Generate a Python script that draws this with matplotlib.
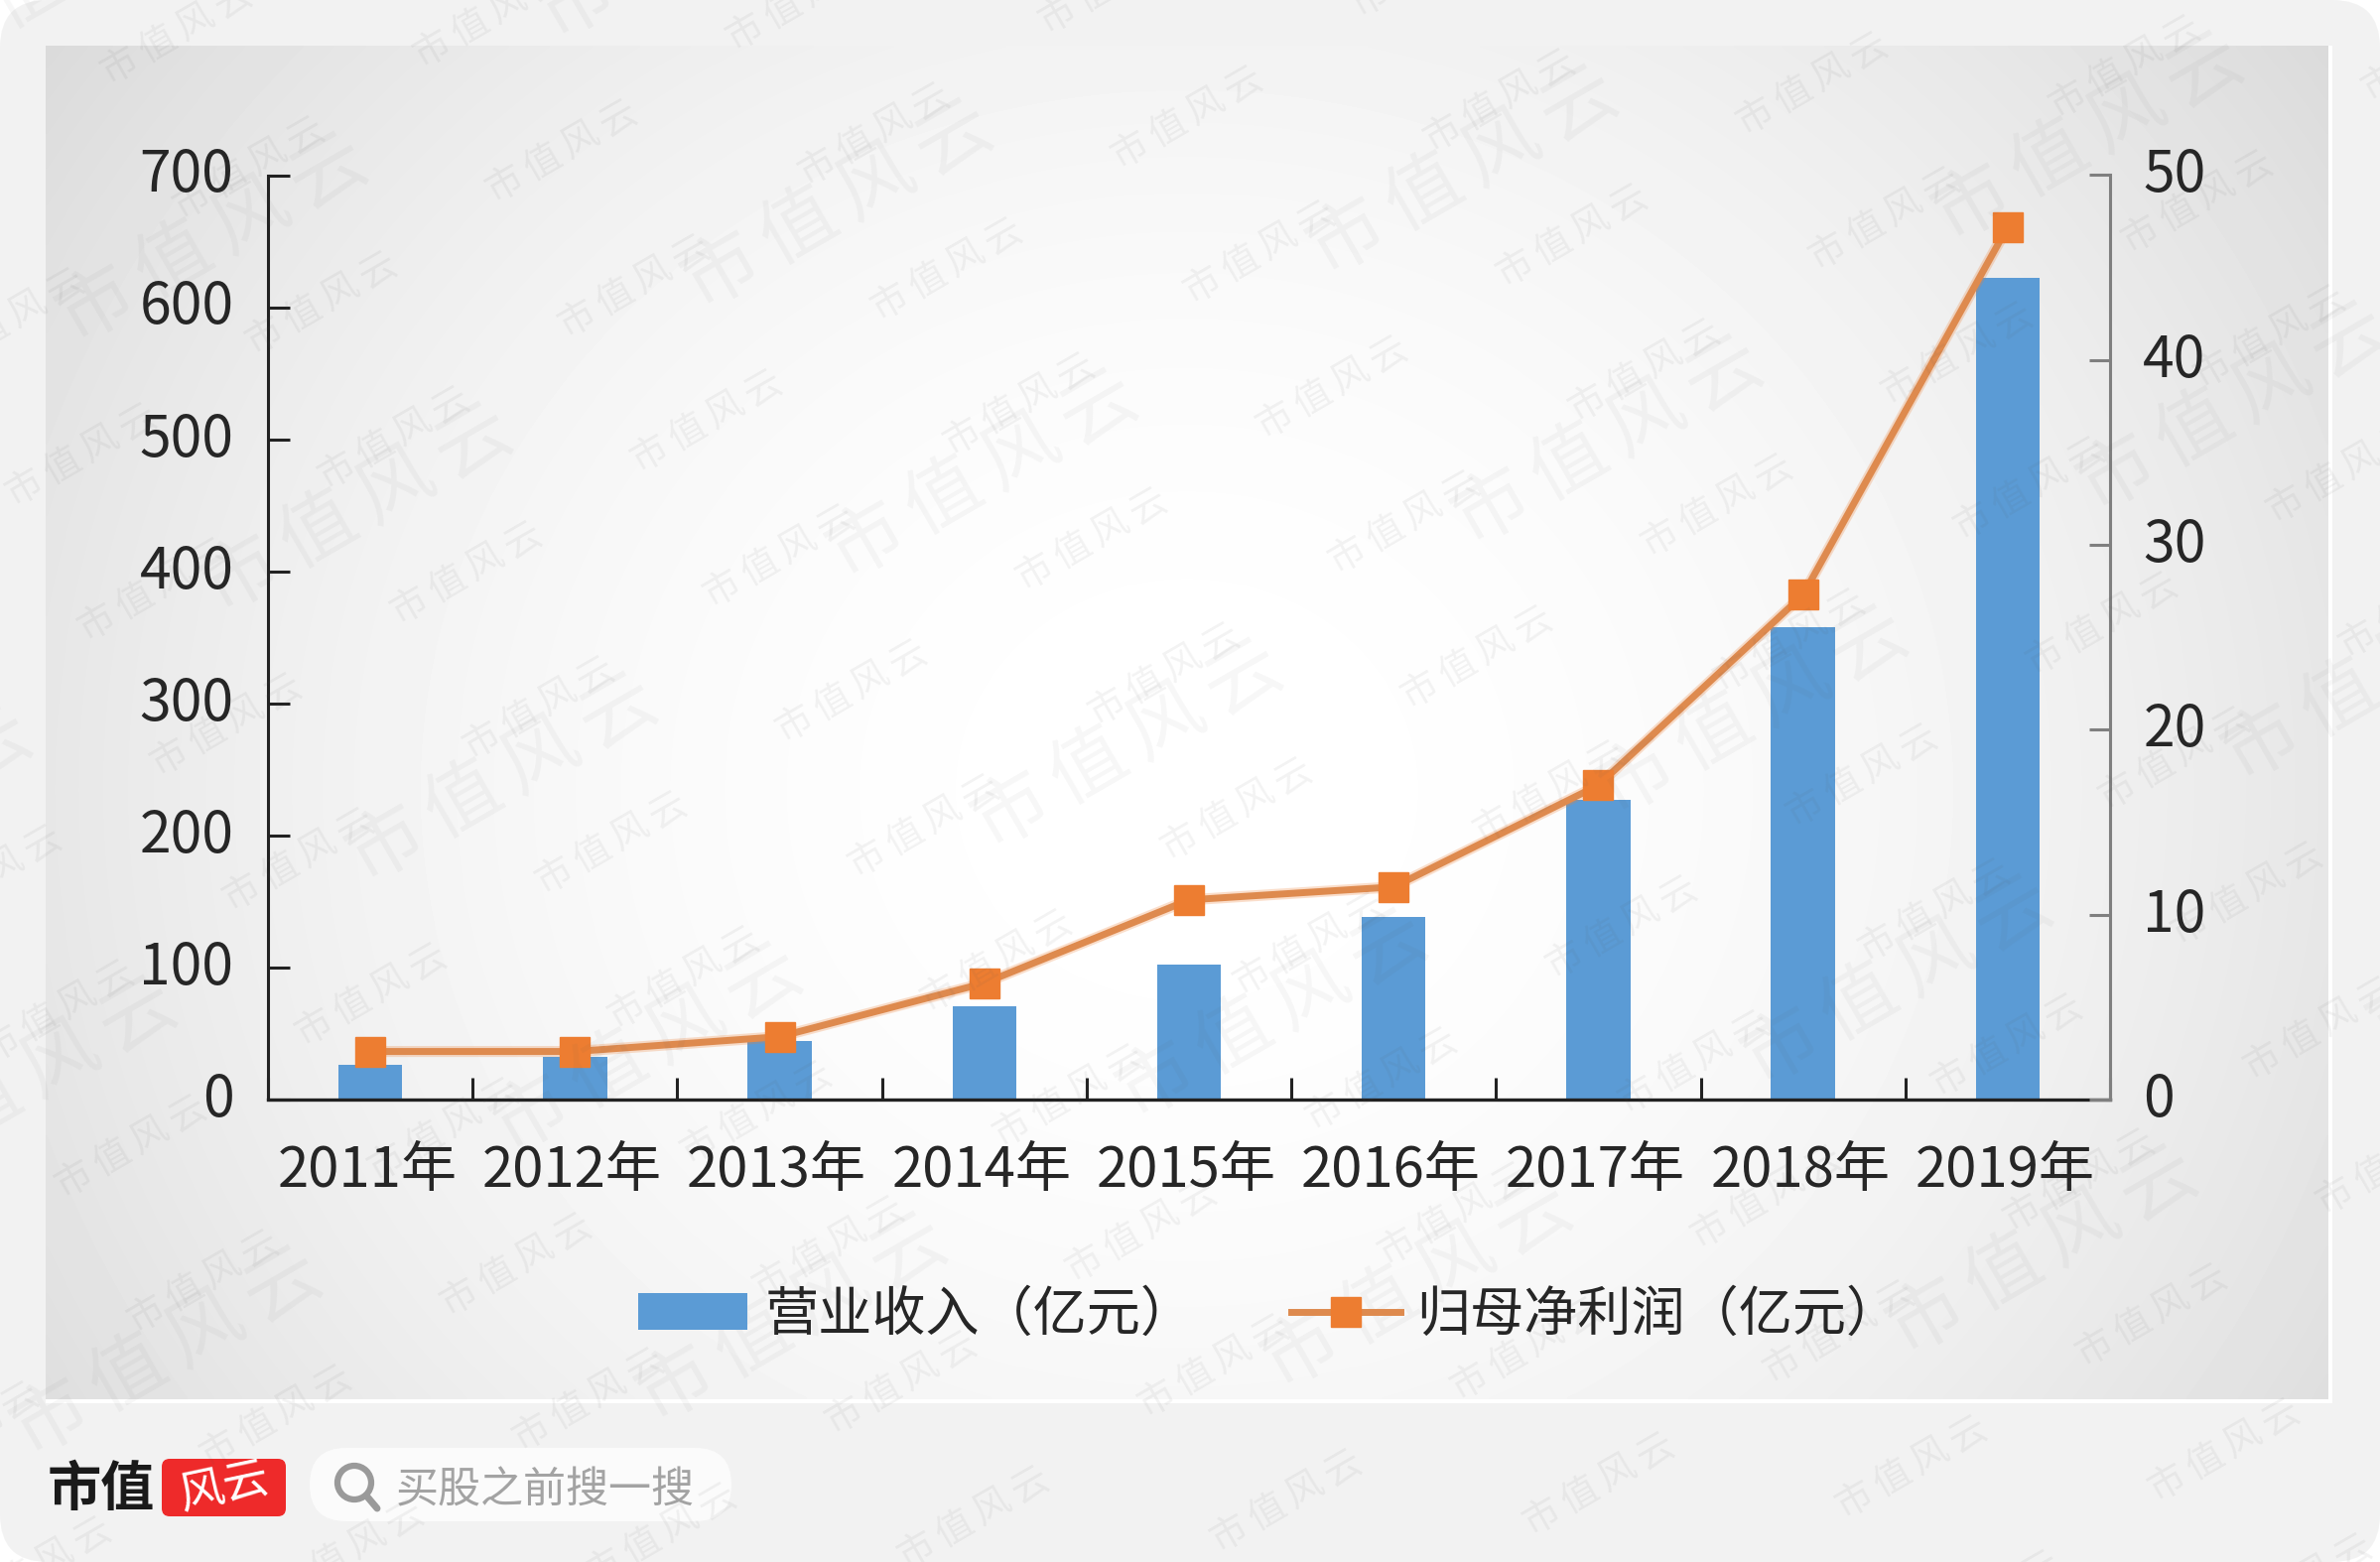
import numpy as np
import matplotlib
matplotlib.use("Agg")
import matplotlib.pyplot as plt
from matplotlib.patches import FancyBboxPatch, Circle
from matplotlib.transforms import ScaledTranslation

plt.rcParams['font.family'] = ['Noto Sans CJK SC', 'DejaVu Sans']

years = ['2011年', '2012年', '2013年', '2014年', '2015年', '2016年', '2017年', '2018年', '2019年']
revenue = [26, 32, 44, 71, 102, 138.5, 227, 358, 622]
net_profit = [2.6, 2.6, 3.4, 6.3, 10.8, 11.5, 17.0, 27.3, 47.2]
left_ticks = [0, 100, 200, 300, 400, 500, 600, 700]
right_ticks = [0, 10, 20, 30, 40, 50]

W, H = 2398, 1574
BLUE = '#5B9BD5'
ORANGE = '#ED7D31'
LINE = '#DE8A4E'
TEXT = '#262626'

fig = plt.figure(figsize=(W / 100, H / 100), dpi=100, facecolor='white')

# page card, gradient panel and footer, all in pixel coordinates
bg = fig.add_axes([0, 0, 1, 1], zorder=-1)
bg.set_xlim(0, W)
bg.set_ylim(H, 0)
bg.axis('off')
bg.add_patch(FancyBboxPatch((0, 0), W, H, boxstyle='round,pad=0,rounding_size=48',
                            fc='#F2F2F2', ec='none'))
bg.fill_between([46, 2350], 1414, 1410, color='white', lw=0)
bg.fill_between([2346, 2350], 46, 1414, color='white', lw=0)

yy, xx = np.mgrid[-1:1:400j, -1:1:600j]
shade = 1 - 0.095 * xx ** 2 - 0.04 * (yy - 0.1) ** 2
bg.imshow(shade, extent=(46, 2346, 1410, 46), cmap='gray', vmin=0, vmax=1,
          aspect='auto', interpolation='bilinear', zorder=1)
bg.set_xlim(0, W)
bg.set_ylim(H, 0)

bg.text(48, 1501, '市值', fontsize=39, fontweight='bold', color='#1a1a1a', va='center', ha='left')
bg.add_patch(FancyBboxPatch((163, 1470), 125, 58, boxstyle='round,pad=0,rounding_size=8',
                            fc='#EE2A2A', ec='none'))
bg.text(226, 1499, '风云', fontsize=33, color='white', va='center', ha='center', rotation=12)
bg.add_patch(FancyBboxPatch((312, 1459), 425, 74, boxstyle='round,pad=0,rounding_size=37',
                            fc='#FBFBFB', ec='none'))
bg.add_patch(Circle((357, 1494), 17, fc='none', ec='#9A9A9A', lw=4.5))
bg.plot([369, 380], [1507, 1520], color='#9A9A9A', lw=5, solid_capstyle='round')
bg.text(399, 1502, '买股之前搜一搜', fontsize=31, color='#A3A3A3', va='center', ha='left')

# chart
ax = fig.add_axes([270 / W, 1 - 1108 / H, (2126 - 270) / W, (1108 - 176.5) / H], zorder=1)
ax.patch.set_alpha(0)
x = np.arange(len(years))
bars = ax.bar(x, revenue, width=0.313, color=BLUE, label='营业收入（亿元）')
ax.set_xlim(-0.5, len(years) - 0.5)
ax.set_ylim(0, 700)
ax.set_yticks(left_ticks)
ax.set_xticks(x)
ax.set_xticklabels(years)
ax.set_xticks(np.arange(-0.5, len(years)), minor=True)
ax.tick_params(axis='x', which='major', length=0, pad=31, labelsize=40.5, labelcolor=TEXT)
ax.tick_params(axis='x', which='minor', direction='in', length=16, width=2.2, color='#222222')
ax.tick_params(axis='y', direction='in', length=16, width=2.2, color='#222222', pad=25,
               labelsize=41, labelcolor=TEXT)
ax.spines['top'].set_visible(False)
ax.spines['right'].set_visible(False)
ax.spines['left'].set_linewidth(2.2)
ax.spines['bottom'].set_linewidth(2.4)
ax.spines['left'].set_color('#222222')
ax.spines['bottom'].set_color('#222222')

ax2 = ax.twinx()
ax2.patch.set_alpha(0)
# soft edge under the profit line, markers stay crisp on top
ax2.plot(x, net_profit, color=ORANGE, lw=8, alpha=0.25)
line, = ax2.plot(x, net_profit, color=LINE, lw=5, marker='s', ms=21.5, mfc=ORANGE, mec=ORANGE,
                 label='归母净利润（亿元）')
ax2.set_ylim(0, 50)
ax2.set_yticks(right_ticks)
ax2.tick_params(axis='y', direction='in', length=15, width=2.2, color='#7F7F7F', pad=24,
                labelsize=41, labelcolor=TEXT)
for name in ['top', 'left', 'bottom']:
    ax2.spines[name].set_visible(False)
ax2.spines['right'].set_color('#7F7F7F')
ax2.spines['right'].set_linewidth(2.2)

# nudge the value labels up a little and the year labels left
lift = ScaledTranslation(0, 4.2 / 72, fig.dpi_scale_trans)
for lab in ax.get_yticklabels() + ax2.get_yticklabels():
    lab.set_transform(lab.get_transform() + lift)
shift = ScaledTranslation(-2 / 72, 0, fig.dpi_scale_trans)
for lab in ax.get_xticklabels():
    lab.set_transform(lab.get_transform() + shift)

fig.legend(handles=[bars, line], loc='center', bbox_to_anchor=(1279 / W, 1 - 1325 / H), ncol=2,
           frameon=False, fontsize=39, handlelength=2.03, handleheight=0.68, handletextpad=0.31,
           columnspacing=1.8, labelcolor=TEXT, borderpad=0, borderaxespad=0)

# repeated diagonal site mark above everything
top = fig.add_axes([0, 0, 1, 1], zorder=5)
top.set_xlim(0, W)
top.set_ylim(H, 0)
top.axis('off')
top.patch.set_alpha(0)


def stamp(cx, cy, step, size, alpha):
    angle = np.deg2rad(30)
    for k, ch in enumerate('市值风云'):
        off = (k - 1.5) * step
        top.text(cx + off * np.cos(angle), cy - off * np.sin(angle), ch, fontsize=size,
                 color='#555555', alpha=alpha, rotation=30, ha='center', va='center',
                 rotation_mode='anchor', clip_on=True)


for i in range(-4, 9):
    for j in range(-3, 14):
        px = 566 + i * 315 + j * 73
        py = 153 - i * 17 + j * 136
        if -60 < px < W + 60 and -60 < py < H + 60:
            stamp(px, py, 44, 27, 0.07)
for i in range(-2, 5):
    for j in range(-2, 7):
        px = 844 + i * 630 + j * 146
        py = 206 - i * 34 + j * 272
        if -150 < px < W + 150 and -150 < py < 1400:
            stamp(px, py, 90, 55, 0.05)

fig.savefig('out.png', dpi=100)
